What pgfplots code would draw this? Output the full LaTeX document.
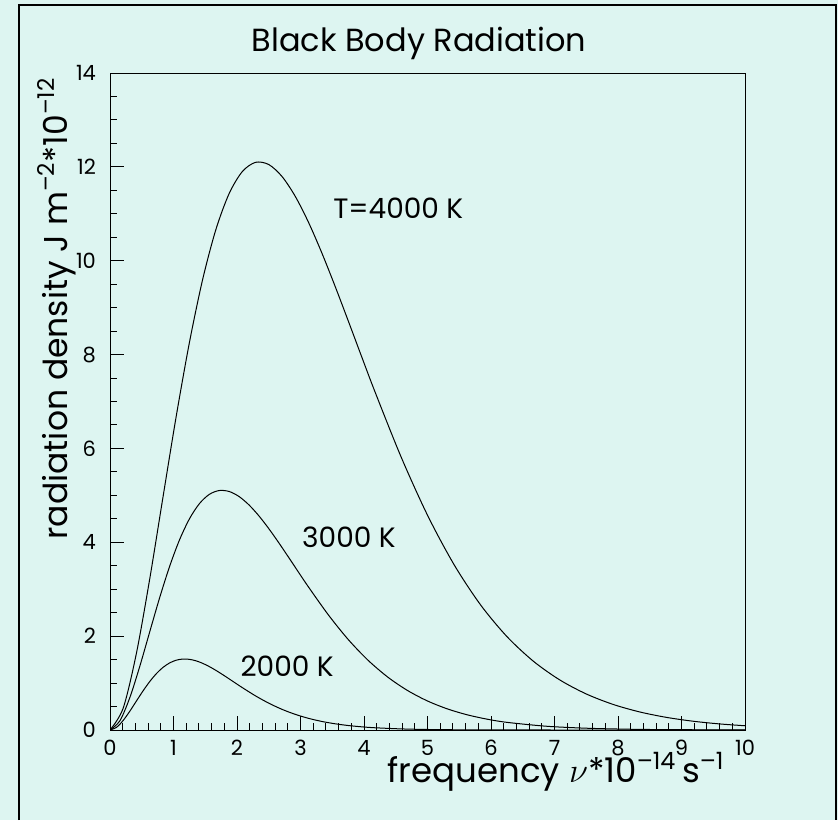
\documentclass[border=0pt]{standalone}
\usepackage{pgfplots}
\pgfplotsset{compat=1.18}
\usepackage{fontspec}
\setmainfont{Poppins}
\definecolor{bgc}{RGB}{221,245,241}

\begin{document}
\begin{tikzpicture}
% background and frame (1px = 0.5pt, picture 838x820 px)
\fill[bgc] (0pt,0pt) rectangle (419pt,410pt);
\draw[line width=1.4pt] (9.5pt,0pt) -- (9.5pt,407.5pt) -- (418pt,407.5pt) -- (418pt,0pt);

\begin{axis}[
    at={(55pt,45pt)}, anchor=south west,
    scale only axis,
    width=317.5pt, height=328.5pt,
    xmin=0, xmax=10, ymin=0, ymax=14,
    xtick={0,1,...,10}, ytick={0,2,...,14},
    minor x tick num=4, minor y tick num=3,
    tick pos=left, tick align=inside,
    major tick length=6.8pt, minor tick length=3.5pt,
    every tick/.style={black, line width=0.5pt},
    axis line style={line width=0.5pt},
    tick label style={font=\fontsize{10.5}{12}\selectfont},
    /pgf/number format/assume math mode=true,
    yticklabel style={xshift=-3.5pt},
    xticklabel style={yshift=-1.5pt},
]
% T = 4000 K
\addplot[black, line width=0.5pt, smooth] coordinates {
(0,0) (0.2084,0.4686) (0.4168,1.6411) (0.6253,3.2168) (0.8337,4.9567)
(1.0421,6.6798) (1.2505,8.2560) (1.4589,9.6004) (1.6674,10.6644)
(1.8758,11.4300) (2.0842,11.9005) (2.2926,12.0967)
(2.5011,12.0489) (2.7095,11.7938) (2.9179,11.3705) (3.1263,10.8171)
(3.3347,10.1699) (3.5432,9.4611) (3.7516,8.7187) (3.9600,7.9661)
(4.1684,7.2221) (4.5853,5.8148) (5.0021,4.5714) (5.4190,3.5218)
(5.8358,2.6663) (6.2526,1.9884) (6.6695,1.4633) (7.0863,1.0645)
(7.5032,0.7664) (7.9200,0.5466) (8.3368,0.3867) (8.7537,0.2715)
(9.1705,0.1893) (9.5874,0.1312) (10,0.0907)
};
% T = 3000 K
\addplot[black, line width=0.5pt, smooth] coordinates {
(0,0) (0.1563,0.1977) (0.3126,0.6923) (0.4690,1.3570) (0.6253,2.0911)
(0.7816,2.8180) (0.9379,3.4829) (1.0942,4.0500) (1.2505,4.4989)
(1.4069,4.8219) (1.5632,5.0204) (1.7195,5.1031)
(1.8758,5.0830) (2.0321,4.9754) (2.1884,4.7968) (2.3448,4.5633)
(2.5011,4.2903) (2.6574,3.9913) (2.8137,3.6781) (2.9700,3.3606)
(3.1263,3.0467) (3.4390,2.4531) (3.7516,1.9285) (4.0643,1.4857)
(4.3769,1.1248) (4.6895,0.8388) (5.0021,0.6173) (5.3148,0.4491)
(5.6274,0.3233) (5.9401,0.2306) (6.2527,0.1631) (6.8780,0.0799)
(7.5032,0.0382) (8.1285,0.0179) (8.7537,0.0082) (10,0.0017)
};
% T = 2000 K
\addplot[black, line width=0.5pt, smooth] coordinates {
(0,0) (0.1042,0.0586) (0.2084,0.2051) (0.3126,0.4021) (0.4168,0.6196)
(0.5211,0.8350) (0.6253,1.0320) (0.7295,1.2000) (0.8337,1.3330)
(0.9379,1.4287) (1.0421,1.4875) (1.1463,1.5121)
(1.2505,1.5061) (1.3547,1.4742) (1.4589,1.4213) (1.5632,1.3521)
(1.6674,1.2712) (1.7716,1.1826) (1.8758,1.0898) (1.9800,0.9957)
(2.0842,0.9027) (2.2926,0.7268) (2.5011,0.5714) (2.7095,0.4402)
(2.9179,0.3333) (3.1263,0.2485) (3.3347,0.1829) (3.5432,0.1331)
(3.7516,0.0958) (3.9600,0.0683) (4.1684,0.0483) (4.5853,0.0237)
(5.0021,0.0113) (5.4190,0.0053) (5.8358,0.0024) (6.6695,0.0005)
(8.3368,0.00002) (10,0)
};
\node[anchor=west, font=\fontsize{14}{16}\selectfont, inner sep=0pt] at (axis cs:3.51,11.12) {T=4000 K};
\node[anchor=west, font=\fontsize{14}{16}\selectfont, inner sep=0pt] at (axis cs:3.02,4.11) {3000 K};
\node[anchor=west, font=\fontsize{14}{16}\selectfont, inner sep=0pt] at (axis cs:2.05,1.36) {2000 K};
\end{axis}

% title and axis titles
\node[anchor=base, font=\fontsize{16}{19}\selectfont, inner sep=0pt] at (209.5pt,384pt) {Black Body Radiation};
\node[anchor=base east, font=\fontsize{17}{20}\selectfont, inner sep=0pt] at (362.5pt,19pt)
  {frequency $\nu$*10\textsuperscript{–14}\,s\textsuperscript{–1}};
\node[anchor=base east, rotate=90, font=\fontsize{16.5}{19}\selectfont, inner sep=0pt] at (33.5pt,371.5pt)
  {radiation density J m\textsuperscript{–2}*10\textsuperscript{–12}};
\end{tikzpicture}
\end{document}
